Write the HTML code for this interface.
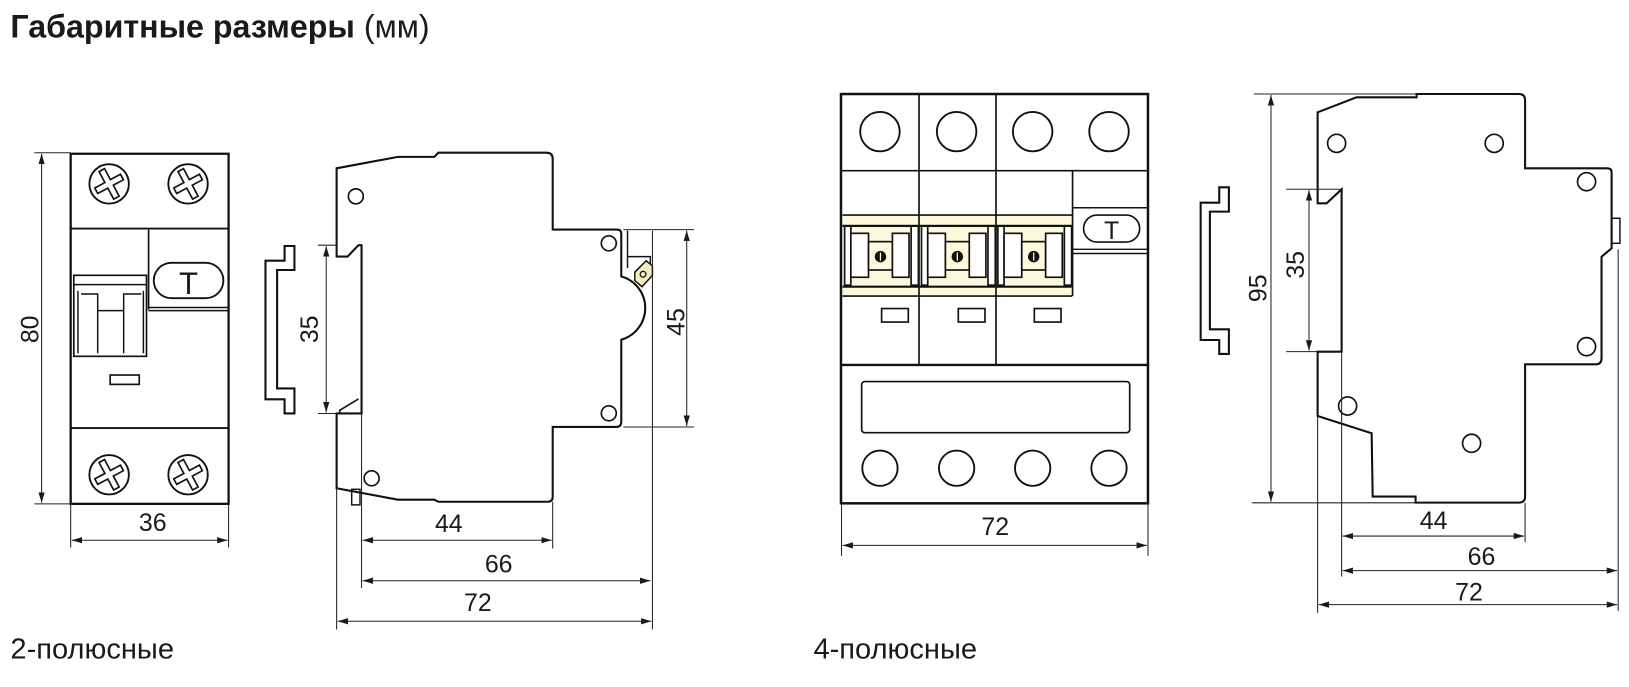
<!DOCTYPE html>
<html><head><meta charset="utf-8"><style>
html,body{margin:0;padding:0;background:#fff;}
svg{display:block;}
text{font-family:"Liberation Sans",sans-serif;fill:#1a1a1a;}
</style></head><body>
<svg width="1629" height="687" viewBox="0 0 1568 661.3" xmlns="http://www.w3.org/2000/svg">
<defs>
<marker id="a" viewBox="0 0 10 10" refX="10" refY="5" markerWidth="10" markerHeight="10" markerUnits="userSpaceOnUse" orient="auto-start-reverse"><path d="M0,2 L10,5 L0,8 Z" fill="#1a1a1a"/></marker>
<g id="screw"><circle r="19" fill="#fff" stroke="#111" stroke-width="1.8"/><path transform="rotate(-28)" d="M-3,-15 L3,-15 L3,-3 L14,-3 L14,3 L3,3 L3,15 L-3,15 L-3,3 L-14,3 L-14,-3 L-3,-3 Z" fill="none" stroke="#111" stroke-width="1.6"/></g>
<g id="sw">
<rect x="0" y="0" width="73" height="78" fill="#fdf9dc" stroke="none"/>
<line x1="0" y1="10.5" x2="73" y2="10.5" stroke="#111" stroke-width="2"/>
<line x1="0" y1="69" x2="73" y2="69" stroke="#111" stroke-width="2"/>
<rect x="2" y="10.5" width="6" height="57" fill="#fff" stroke="#111" stroke-width="1.6"/>
<rect x="8" y="17.6" width="17" height="42.3" fill="#fff" stroke="#111" stroke-width="1.6"/>
<rect x="25" y="25.6" width="23" height="27.3" fill="#fdf9dc" stroke="#111" stroke-width="1.6"/>
<rect x="48" y="17.6" width="16" height="42.3" fill="#fff" stroke="#111" stroke-width="1.6"/>
<rect x="66" y="10.5" width="7" height="57" fill="#fff" stroke="#111" stroke-width="1.6"/>
<circle cx="36.5" cy="40" r="5.5" fill="#111"/><line x1="36.5" y1="36" x2="36.5" y2="44" stroke="#fdf9dc" stroke-width="1.2"/>
</g>
</defs>

<text x="10" y="36" font-size="31" font-weight="bold">Габаритные размеры <tspan font-weight="normal">(мм)</tspan></text>
<text x="10" y="634" font-size="28">2-полюсные</text>
<text x="783" y="634" font-size="28">4-полюсные</text>

<g stroke="#111" fill="none">
<!-- LEFT FRONT -->
<rect x="68" y="148" width="152" height="337" stroke-width="2.2"/>
<line x1="68" y1="220" x2="220" y2="220" stroke-width="1.8"/>
<line x1="68" y1="412" x2="220" y2="412" stroke-width="1.8"/>
<line x1="143" y1="221" x2="143" y2="298" stroke-width="1.6"/>
<line x1="143" y1="296" x2="220" y2="296" stroke-width="1.4"/>
<line x1="143" y1="299" x2="220" y2="299" stroke-width="1.4"/>
<rect x="148" y="253" width="67" height="34" rx="17" stroke-width="1.8"/>
<rect x="71" y="265" width="70" height="78" stroke-width="1.6"/>
<line x1="71" y1="274" x2="141" y2="274" stroke-width="1.4"/>
<path d="M75,280 L75,340 M138,280 L138,340 M78,283 L94,283 L94,299 L119,299 L119,283 L136,283 M94,299 L94,340 M119,299 L119,340" stroke-width="1.4"/>
<rect x="106" y="361" width="28" height="9" stroke-width="1.6"/>
</g>
<use href="#screw" x="105" y="177"/><use href="#screw" x="181" y="177"/>
<use href="#screw" x="105" y="457"/><use href="#screw" x="181" y="457"/>

<g stroke="#222" stroke-width="1" fill="none">
<line x1="33" y1="147" x2="68" y2="147"/><line x1="33" y1="485" x2="68" y2="485"/>
<line x1="40" y1="148" x2="40" y2="484" marker-start="url(#a)" marker-end="url(#a)"/>
<line x1="68" y1="485" x2="68" y2="527"/><line x1="220" y1="485" x2="220" y2="527"/>
<line x1="69" y1="520" x2="219" y2="520" marker-start="url(#a)" marker-end="url(#a)"/>
</g>
<text transform="translate(37,317) rotate(-90)" text-anchor="middle" font-size="24">80</text>
<text x="147" y="511" text-anchor="middle" font-size="24">36</text>

<!-- LEFT SIDE -->
<g stroke="#111" fill="none" stroke-width="2">
<path d="M255.5,250.9 L273.9,250.9 L273.9,236.8 L283.4,236.8 L283.4,259.9 L266.7,259.9 L266.7,373.9 L283.4,373.9 L283.4,398 L273.9,398 L273.9,384.4 L255.5,384.4 Z"/>
<path d="M348,236 L345,236 L334.5,247 L324,247 L324,162 L383,151 L418,151 L422,147 L526,147 Q532,147 532,153 L532,221 L594,221 Q598,221 598,225 L598,266 A31.7,31.7 0 0 1 598,327 L598,406 Q598,411 593,411 L532,411 L532,478 Q532,483 527,483 L422,483 L418,481 L383,481 L324,470 L324,398 L348,398 Z"/>
<path d="M345,384 L327,395 L327,398" stroke-width="1.6"/>
<rect x="338.5" y="471" width="8" height="15" stroke-width="1.4"/>
<path d="M604,222 L604,258 M604,247 L626,247 L626,260" stroke-width="1.4"/>
<path d="M611,262 L622,251 L628,256 L628,265 L618,276 L611,270 Z" fill="#f3ecc0" stroke-width="1.4"/>
<circle cx="619" cy="264" r="2.8" stroke-width="1.2"/>
<circle cx="342.5" cy="189" r="7.2" stroke-width="1.6"/>
<circle cx="357.7" cy="460.4" r="7.2" stroke-width="1.6"/>
<circle cx="586" cy="234.2" r="7.2" stroke-width="1.6"/>
<circle cx="586" cy="397.8" r="7.2" stroke-width="1.6"/>
</g>
<g stroke="#222" stroke-width="1" fill="none">
<line x1="306" y1="236" x2="324" y2="236"/><line x1="306" y1="398" x2="324" y2="398"/>
<line x1="314" y1="237" x2="314" y2="397" marker-start="url(#a)" marker-end="url(#a)"/>
<line x1="600" y1="221" x2="668" y2="221"/><line x1="600" y1="411" x2="668" y2="411"/>
<line x1="661" y1="222" x2="661" y2="410" marker-start="url(#a)" marker-end="url(#a)"/>
<line x1="324" y1="470" x2="324" y2="606"/><line x1="348" y1="398" x2="348" y2="566"/>
<line x1="532" y1="483" x2="532" y2="528"/><line x1="628" y1="222" x2="628" y2="606"/>
<line x1="349" y1="520" x2="531" y2="520" marker-start="url(#a)" marker-end="url(#a)"/>
<line x1="349" y1="559" x2="626" y2="559" marker-start="url(#a)" marker-end="url(#a)"/>
<line x1="325" y1="598" x2="627" y2="598" marker-start="url(#a)" marker-end="url(#a)"/>
</g>
<text transform="translate(306,317) rotate(-90)" text-anchor="middle" font-size="24">35</text>
<text transform="translate(659,310) rotate(-90)" text-anchor="middle" font-size="24">45</text>
<text x="432" y="512" text-anchor="middle" font-size="24">44</text>
<text x="480" y="551" text-anchor="middle" font-size="24">66</text>
<text x="460" y="588" text-anchor="middle" font-size="24">72</text>

<!-- 4-POLE FRONT -->
<use href="#sw" x="811" y="207"/><use href="#sw" x="885" y="207"/><use href="#sw" x="958.5" y="207"/>
<g stroke="#111" fill="none">
<line x1="811" y1="217.5" x2="1032" y2="217.5" stroke-width="2"/>
<line x1="811" y1="207" x2="1032" y2="207" stroke-width="1.6"/>
<line x1="811" y1="285" x2="1032" y2="285" stroke-width="1.6"/>
<rect x="809.5" y="90.5" width="295.5" height="394" stroke-width="2.4"/>
<line x1="809.5" y1="164.3" x2="1105" y2="164.3" stroke-width="1.6"/>
<line x1="884.6" y1="90.5" x2="884.6" y2="351.3" stroke-width="1.6"/>
<line x1="958.7" y1="90.5" x2="958.7" y2="351.3" stroke-width="1.6"/>
<line x1="1032.4" y1="164.3" x2="1032.4" y2="285" stroke-width="1.6"/>
<line x1="1032.4" y1="200" x2="1105" y2="200" stroke-width="1.4"/>
<line x1="1032.4" y1="240" x2="1105" y2="240" stroke-width="1.4"/>
<line x1="1032.4" y1="244" x2="1105" y2="244" stroke-width="1.4"/>
<rect x="1043" y="207" width="54" height="26" rx="13" stroke-width="1.6"/>
<line x1="809.5" y1="351.3" x2="1105" y2="351.3" stroke-width="2.2"/>
<rect x="829.4" y="367.3" width="258" height="49.2" rx="3" stroke-width="1.6"/>
<circle cx="847" cy="126.7" r="19" stroke-width="1.8"/><circle cx="920.8" cy="126.7" r="19" stroke-width="1.8"/>
<circle cx="994" cy="126.7" r="19" stroke-width="1.8"/><circle cx="1067.5" cy="126.7" r="19" stroke-width="1.8"/>
<circle cx="847" cy="450.7" r="17" stroke-width="1.8"/><circle cx="920.8" cy="450.7" r="17" stroke-width="1.8"/>
<circle cx="994" cy="450.7" r="17" stroke-width="1.8"/><circle cx="1067.5" cy="450.7" r="17" stroke-width="1.8"/>
<rect x="848.6" y="297" width="25.7" height="13" stroke-width="1.6"/>
<rect x="922.4" y="297" width="25.7" height="13" stroke-width="1.6"/>
<rect x="995.6" y="297" width="25.7" height="13" stroke-width="1.6"/>
</g>
<text x="1070" y="230" text-anchor="middle" font-size="24">T</text>
<text x="181.5" y="283" text-anchor="middle" font-size="30">T</text>
<g stroke="#222" stroke-width="1" fill="none">
<line x1="810" y1="485" x2="810" y2="535"/><line x1="1105" y1="485" x2="1105" y2="535"/>
<line x1="811" y1="525" x2="1104" y2="525" marker-start="url(#a)" marker-end="url(#a)"/>
</g>
<text x="958" y="515" text-anchor="middle" font-size="24">72</text>

<!-- RIGHT SIDE -->
<g stroke="#111" fill="none" stroke-width="2">
<path d="M1173.6,195.1 L1173.6,180.3 L1182.9,180.3 L1182.9,203.7 L1164.6,203.7 L1164.6,317 L1182.9,317 L1182.9,340.7 L1173.6,340.7 L1173.6,327.3 L1155.7,327.3 L1155.7,195.1 Z"/>
<path d="M1268.3,195.7 L1268.3,108.1 L1305.8,93.7 L1363.6,93.7 L1363.6,90.5 L1462,90.5 Q1468,90.5 1468,96.5 L1468,162 L1547,162 Q1551.3,162 1551.3,166 L1551.3,239 L1541.6,247.1 L1541.6,345 Q1541.6,350.7 1536,350.7 L1468,350.7 L1468,478 Q1468,483.8 1462,483.8 L1362.6,483.8 L1362.6,478 L1321.3,478 L1320.3,417.1 L1268.3,400.4 L1268.3,338.5 L1291.4,338.5 L1291.4,182.2 L1277,195.7 Z"/>
<rect x="1551.3" y="210.1" width="8" height="24.1" stroke-width="1.4"/>
<circle cx="1286.6" cy="138" r="8.7" stroke-width="1.6"/><circle cx="1438.3" cy="138" r="8.7" stroke-width="1.6"/>
<circle cx="1297.2" cy="390.8" r="8.7" stroke-width="1.6"/><circle cx="1416.5" cy="426.7" r="8.7" stroke-width="1.6"/>
<circle cx="1527.2" cy="174.9" r="8.7" stroke-width="1.6"/><circle cx="1527.2" cy="333.7" r="8.7" stroke-width="1.6"/>
</g>
<g stroke="#222" stroke-width="1" fill="none">
<line x1="1207" y1="90.5" x2="1363" y2="90.5"/><line x1="1205" y1="484" x2="1362" y2="484"/>
<line x1="1223.4" y1="91.5" x2="1223.4" y2="483" marker-start="url(#a)" marker-end="url(#a)"/>
<line x1="1238" y1="182.2" x2="1291" y2="182.2"/><line x1="1238" y1="338.5" x2="1268" y2="338.5"/>
<line x1="1260" y1="183" x2="1260" y2="337.5" marker-start="url(#a)" marker-end="url(#a)"/>
<line x1="1268.3" y1="400" x2="1268.3" y2="590"/><line x1="1291.4" y1="338.5" x2="1291.4" y2="555"/>
<line x1="1468" y1="484" x2="1468" y2="522"/><line x1="1557.6" y1="240" x2="1557.6" y2="588"/>
<line x1="1292.4" y1="516" x2="1467" y2="516" marker-start="url(#a)" marker-end="url(#a)"/>
<line x1="1292.4" y1="549.3" x2="1556.6" y2="549.3" marker-start="url(#a)" marker-end="url(#a)"/>
<line x1="1269.3" y1="582" x2="1556.6" y2="582" marker-start="url(#a)" marker-end="url(#a)"/>
</g>
<text transform="translate(1219,277.5) rotate(-90)" text-anchor="middle" font-size="24">95</text>
<text transform="translate(1255,255) rotate(-90)" text-anchor="middle" font-size="24">35</text>
<text x="1380" y="509" text-anchor="middle" font-size="24">44</text>
<text x="1426" y="544" text-anchor="middle" font-size="24">66</text>
<text x="1414" y="578" text-anchor="middle" font-size="24">72</text>
</svg>
</body></html>
